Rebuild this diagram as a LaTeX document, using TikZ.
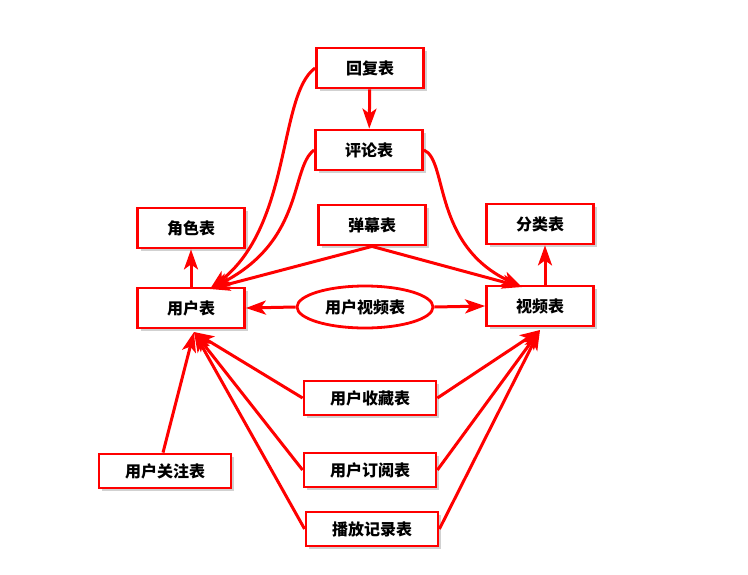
\documentclass[tikz,border=0pt]{standalone}
\usepackage{fontspec}
\newfontfamily\cjk{Noto Sans CJK SC}
\usetikzlibrary{arrows.meta,shadows,shapes.geometric,calc}
\begin{document}
\begin{tikzpicture}[x=1pt,y=-1pt,
  tbl/.style={draw=red,line width=2.8pt,fill=white,minimum width=107pt,minimum height=40pt,
    inner sep=0pt,font=\cjk\bfseries\fontsize{16}{18}\selectfont,
    drop shadow={shadow xshift=3pt,shadow yshift=-3pt,opacity=0.3,fill=black!60}},
  wtbl/.style={tbl,minimum width=132pt,minimum height=34pt},
  ell/.style={draw=red,line width=2.8pt,fill=white,ellipse,minimum width=136pt,minimum height=42pt,
    inner sep=0pt,font=\cjk\bfseries\fontsize{16}{18}\selectfont},
  con/.style={draw=red,line width=3pt,-{Stealth[length=20pt,width=14pt,inset=5pt]}}]
\useasboundingbox (0,0) rectangle (748,574);
\node[tbl] (reply) at (370,68) {回复表};
\node[tbl] (comment) at (369,150) {评论表};
\node[tbl] (role) at (191,228) {角色表};
\node[tbl] (danmu) at (372,225) {弹幕表};
\node[tbl] (cat) at (540,224) {分类表};
\node[tbl] (user) at (191,308) {用户表};
\node[ell] (uv) at (365,307) {用户视频表};
\node[tbl] (video) at (540,306) {视频表};
\node[wtbl] (fav) at (370,398) {用户收藏表};
\node[wtbl] (sub) at (370,470) {用户订阅表};
\node[wtbl] (play) at (372,529) {播放记录表};
\node[wtbl] (follow) at (165,471) {用户关注表};
\coordinate (ut) at (210,289);
\coordinate (vt) at (522,287);
\coordinate (ub) at (194,332);
\coordinate (vb) at (540,330);
\draw[con] (reply) -- (comment);
\draw[con] (reply.west) .. controls (278,95) and (292,225) .. (ut);
\draw[con] (comment.west) .. controls (290,168) and (305,240) .. (ut);
\draw[con] (comment.east) .. controls (448,160) and (432,245) .. (vt);
\draw[con] (danmu.south) -- (ut);
\draw[con] (danmu.south) -- (vt);
\draw[con] (user.north) -- (role.south);
\draw[con] ($(video.north)+(5,0)$) -- ($(cat.south)+(5,0)$);
\draw[con] (uv.west) -- (user.east);
\draw[con] (uv.east) -- (video.west);
\draw[con] (fav.west) -- (ub);
\draw[con] (sub.west) -- (ub);
\draw[con] (play.west) -- (ub);
\draw[con] ($(follow.north)+(-2,0)$) -- (ub);
\draw[con] (fav.east) -- (vb);
\draw[con] (sub.east) -- (vb);
\draw[con] (play.east) -- (vb);
\end{tikzpicture}
\end{document}
